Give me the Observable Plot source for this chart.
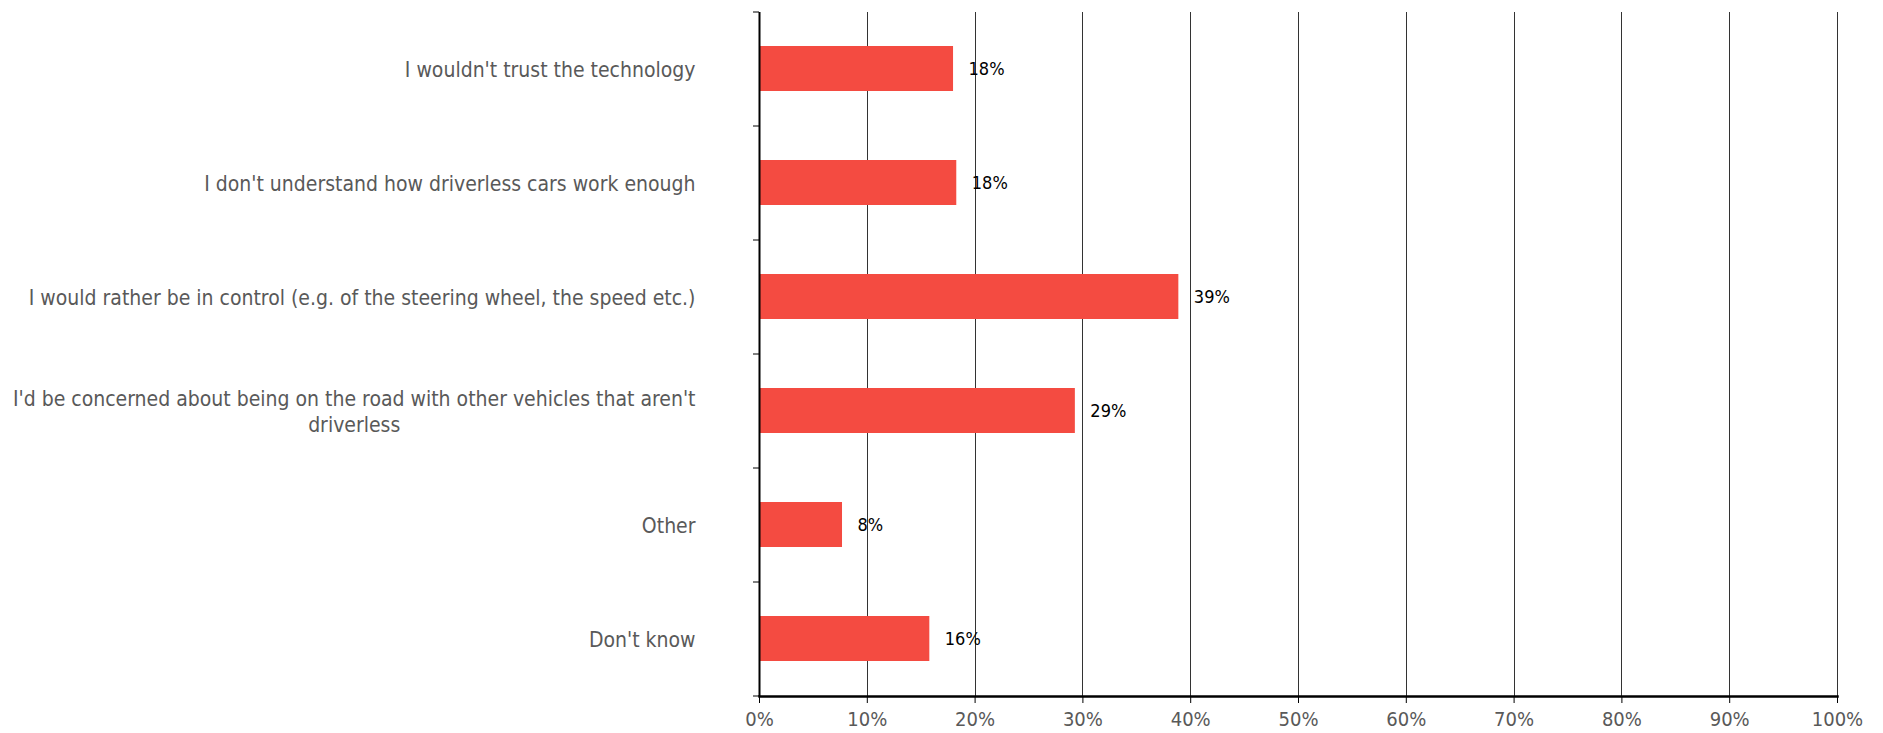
<!DOCTYPE html>
<html>
<head>
<meta charset="utf-8">
<script src="https://cdn.jsdelivr.net/npm/d3@7"></script>
<script src="https://cdn.jsdelivr.net/npm/@observablehq/plot@0.6"></script>
<style>
  html, body { margin: 0; padding: 0; background: #fff; }
  #chart svg { display: block; }
</style>
</head>
<body>
<div id="chart"></div>
<script>
const categories = [
  "I wouldn't trust the technology",
  "I don't understand how driverless cars work enough",
  "I would rather be in control (e.g. of the steering wheel, the speed etc.)",
  "I'd be concerned about being on the road with other vehicles that aren't\ndriverless",
  "Other",
  "Don't know"
];
const values = [18.0, 18.3, 38.9, 29.3, 7.7, 15.8];
const xTicks = [0, 10, 20, 30, 40, 50, 60, 70, 80, 90, 100];

const data = categories.map((c, i) => ({category: c, value: values[i]}));

const W = 1883, H = 733;
const mTop = 12, mBottom = 37, mLeft = 759, mRight = 46;
const step = (H - mTop - mBottom) / categories.length;

const chart = Plot.plot({
  width: W,
  height: H,
  marginTop: mTop,
  marginBottom: mBottom,
  marginLeft: mLeft,
  marginRight: mRight,
  style: {fontFamily: "'DejaVu Sans Condensed', 'DejaVu Sans', sans-serif", background: "#fff"},
  x: {domain: [0, 100], label: null},
  y: {domain: categories, paddingInner: 0.605, paddingOuter: 0.3025, label: null},
  marks: [
    Plot.gridX(xTicks, {stroke: "#333", strokeOpacity: 1, strokeWidth: 1, shapeRendering: "crispEdges"}),
    Plot.barX(data, {x: "value", y: "category", fill: "#F44B41"}),
    Plot.text(data, {
      x: "value", y: "category", text: d => Math.round(d.value) + "%",
      textAnchor: "start", dx: 15, fill: "#000", fontSize: 18
    }),
    Plot.axisX(xTicks, {
      tickFormat: d => d + "%", tickSize: 7, tickPadding: 8, label: null,
      fontSize: 20, stroke: "#000", fill: "#595959"
    }),
    Plot.axisY(categories, {
      tickSize: 0, tickPadding: 64, fontSize: 21, fill: "#595959", label: null,
      lineHeight: 1.2, tickFormat: d => d
    }),
    Plot.axisY(categories, {tickSize: 6, text: null, label: null, dy: step / 2, stroke: "#000"}),
    Plot.axisY([categories[0]], {tickSize: 6, text: null, label: null, dy: -step / 2, stroke: "#000"}),
    Plot.ruleX([0], {stroke: "#000", strokeWidth: 2}),
    Plot.frame({anchor: "bottom", stroke: "#000", strokeWidth: 2.5})
  ]
});

document.getElementById("chart").appendChild(chart);

// Center wrapped lines relative to each other (as in the original)
chart.querySelectorAll("text").forEach(t => {
  const spans = t.querySelectorAll("tspan");
  if (spans.length > 1) {
    let maxW = 0;
    spans.forEach(s => { maxW = Math.max(maxW, s.getComputedTextLength()); });
    t.setAttribute("text-anchor", "middle");
    spans.forEach(s => s.setAttribute("x", -maxW / 2));
  }
});
</script>
</body>
</html>
